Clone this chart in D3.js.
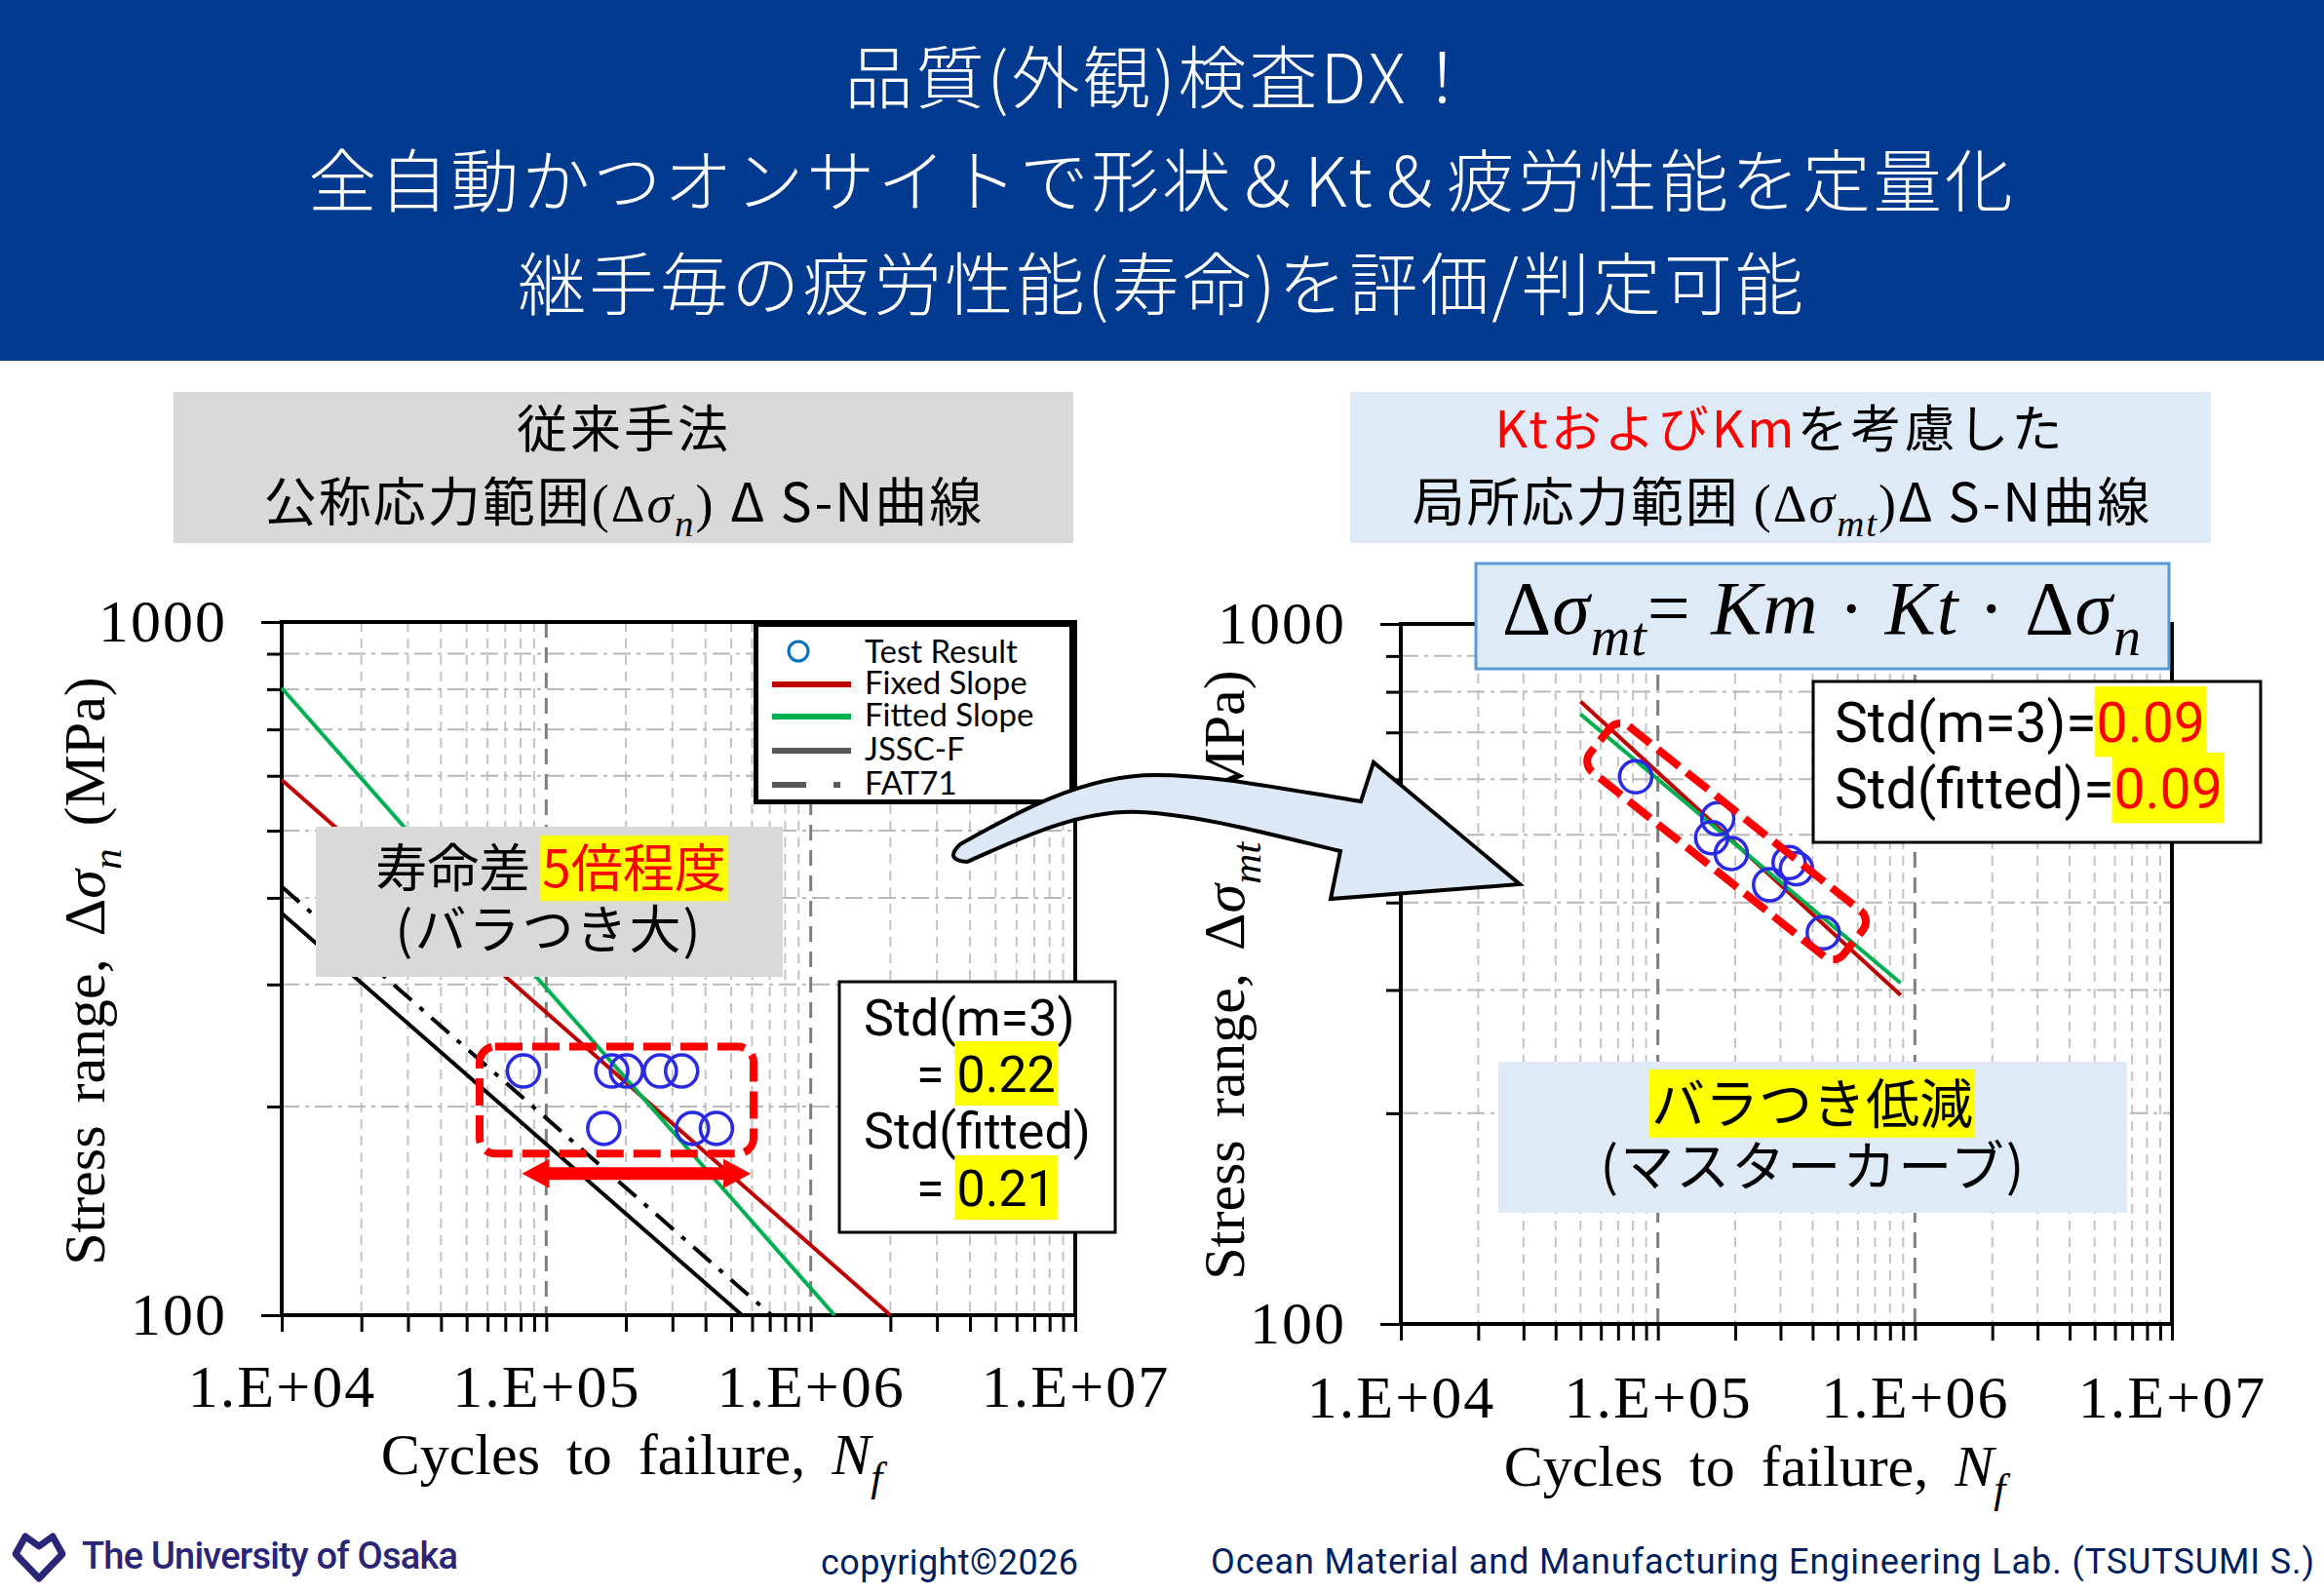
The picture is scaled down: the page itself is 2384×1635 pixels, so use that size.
<!DOCTYPE html>
<html>
<head>
<meta charset="utf-8">
<script src="https://cdn.jsdelivr.net/npm/d3@7"></script>
<style>
  body { margin: 0; background: #fff; }
  svg { display: block; }
</style>
</head>
<body>
<script>
const width = 2384
const height = 1635

// ---- data ----
const headerLines = ["品質(外観)検査DX！", "全自動かつオンサイトで形状＆Kt＆疲労性能を定量化", "継手毎の疲労性能(寿命)を評価/判定可能"]
const xTicks = [1e4, 1e5, 1e6, 1e7]
const xTickLabels = ["1.E+04", "1.E+05", "1.E+06", "1.E+07"]
const yTicks = [100, 1000]
const yTickLabels = ["100", "1000"]

// test results, nominal stress range (left)
const testN = [82000, 177000, 201000, 270000, 325000, 165000, 357000, 440000]
const testS = [225, 225, 225, 225, 225, 186, 186, 186]
// test results, local stress range (right)
const localN = [82000, 171000, 162000, 193000, 324000, 346000, 272000, 440000]
const localS = [605, 527, 495, 470, 456, 447, 424, 362]

// S-N curves, end points
const curveNames = ["Fixed Slope", "Fitted Slope", "JSSC-F", "FAT71"]
const curveN = [[1e4, 2.0e6], [1e4, 1.23e6], [1e4, 5.5e5], [1e4, 7.1e5]]
const curveS = [[592, 100], [803, 100], [380, 100], [415, 100]]
const localCurveNames = ["Fixed Slope", "Fitted Slope"]
const localCurveN = [[5.0e4, 8.8e5], [5.0e4, 8.8e5]]
const localCurveS = [[775, 295], [743, 307]]

const legendNames = ["Test Result", "Fixed Slope", "Fitted Slope", "JSSC-F", "FAT71"]
const stdLeft = ["0.22", "0.21"]
const stdRight = ["0.09", "0.09"]

// ---- styles ----
const curveStyle = {
  "Fixed Slope": { stroke: "#c00000", width: 4, dash: null },
  "Fitted Slope": { stroke: "#00b050", width: 4, dash: null },
  "JSSC-F": { stroke: "#000", width: 4, dash: null },
  "FAT71": { stroke: "#000", width: 4, dash: "24,11,5,11" }
}
const CJK = "'Noto Sans CJK JP', sans-serif"
const SERIF = "'Liberation Serif', 'DejaVu Serif', serif"
const NARROW = "'Liberation Sans Narrow', 'Roboto', sans-serif"
const HL = "#ffff00"

const svg = d3.select("body")
    .append("svg")
    .attr("width", width)
    .attr("height", height)

// text with tspans (italic, subscript, colour, highlight)
function rich(g, x, y, parts, o) {
  const t = g.append("text")
    .attr("x", x).attr("y", y)
    .attr("text-anchor", o.anchor || "middle")
    .attr("font-family", o.family)
    .attr("font-size", o.size)
    .attr("fill", o.fill || "#000")
  if (o.spacing) t.attr("letter-spacing", o.spacing)
  if (o.wordSpacing) t.attr("word-spacing", o.wordSpacing)
  if (o.rotate) t.attr("transform", `rotate(${o.rotate},${x},${y})`)
  const shift = o.size * 0.28
  let wasSub = false
  const spans = []
  parts.forEach(p => {
    const s = t.append("tspan").text(p.t)
    if (p.fill) s.attr("fill", p.fill)
    if (p.family) s.attr("font-family", p.family)
    if (p.italic) s.attr("font-style", "italic")
    if (p.sub) s.attr("dy", wasSub ? 0 : shift).attr("font-size", o.size * 0.72)
    else if (wasSub) s.attr("dy", -shift)
    wasSub = !!p.sub
    spans.push([s, p])
  })
  spans.forEach(([s, p]) => {
    if (!p.bg) return
    const n = s.node()
    const x0 = n.getStartPositionOfChar(0).x
    const w = n.getComputedTextLength()
    g.insert("rect", () => t.node())
      .attr("x", x0 - 2).attr("y", y - o.size * 1.0)
      .attr("width", w + 4).attr("height", o.size * 1.27)
      .attr("fill", p.bg)
  })
  return t
}

// ---- header ----
svg.append("rect").attr("x", 0).attr("y", 0).attr("width", width).attr("height", 370).attr("fill", "#023a90")
svg.selectAll(".hdr").data(headerLines).enter()
  .append("text")
    .attr("x", width / 2)
    .attr("y", (d, i) => 106 + i * 106)
    .attr("text-anchor", "middle")
    .attr("font-family", CJK)
    .attr("font-size", 70)
    .attr("font-weight", 300)
    .attr("letter-spacing", 3)
    .attr("fill", "#fff")
    .text(d => d)

// ---- subtitles ----
svg.append("rect").attr("x", 178).attr("y", 402).attr("width", 923).attr("height", 155).attr("fill", "#d9d9d9")
rich(svg, 640, 459, [{ t: "従来手法" }], { family: CJK, size: 52, spacing: 3 })
rich(svg, 640, 535, [
  { t: "公称応力範囲" }, { t: "(Δ", family: SERIF }, { t: "σ", family: SERIF, italic: true },
  { t: "n", family: SERIF, italic: true, sub: true }, { t: ")  ", family: SERIF }, { t: "Δ S-N曲線" }
], { family: CJK, size: 54, spacing: 2 })

svg.append("rect").attr("x", 1385).attr("y", 402).attr("width", 883).attr("height", 155).attr("fill", "#deebf7")
rich(svg, 1826, 459, [{ t: "KtおよびKm", fill: "#ff0000" }, { t: "を考慮した" }], { family: CJK, size: 52, spacing: 3 })
rich(svg, 1828, 535, [
  { t: "局所応力範囲 " }, { t: "(Δ", family: SERIF }, { t: "σ", family: SERIF, italic: true },
  { t: "mt", family: SERIF, italic: true, sub: true }, { t: ")", family: SERIF }, { t: "Δ S-N曲線" }
], { family: CJK, size: 54, spacing: 2 })

// ---- plot scaffolding ----
function makeScales(x0, x1, y0, y1) {
  return {
    x: d3.scaleLog().domain([1e4, 1e7]).range([x0, x1]),
    y: d3.scaleLog().domain([100, 1000]).range([y1, y0])
  }
}
const L = makeScales(289, 1103, 638, 1349)
const R = makeScales(1437, 2228, 640, 1358)

const minorX = d3.range(4, 7).flatMap(e => d3.range(2, 10).map(k => k * 10 ** e))
const minorY = d3.range(2, 10).map(k => k * 100)

function drawFrame(g, s, o) {
  const [x0, x1] = s.x.range()
  const [y1, y0] = s.y.range()

  g.selectAll(".gx").data(minorX).enter().append("line")
    .attr("x1", d => s.x(d)).attr("x2", d => s.x(d))
    .attr("y1", y0).attr("y2", y1)
    .attr("stroke", "#c4c4c4").attr("stroke-width", 2).attr("stroke-dasharray", "10,7")
  g.selectAll(".gy").data(minorY).enter().append("line")
    .attr("x1", x0).attr("x2", x1)
    .attr("y1", d => s.y(d)).attr("y2", d => s.y(d))
    .attr("stroke", "#b8b8b8").attr("stroke-width", 2).attr("stroke-dasharray", "18,6,4,6")
  g.selectAll(".gX").data([1e5, 1e6]).enter().append("line")
    .attr("x1", d => s.x(d)).attr("x2", d => s.x(d))
    .attr("y1", y0).attr("y2", y1)
    .attr("stroke", "#7f7f7f").attr("stroke-width", 3).attr("stroke-dasharray", "16,10")

  const ax = d3.axisBottom(s.x)
    .tickValues(xTicks.concat(minorX))
    .tickSize(17).tickSizeOuter(0).tickPadding(o.xPad)
    .tickFormat(d => { const i = xTicks.indexOf(d); return i >= 0 ? xTickLabels[i] : "" })
  const gx = g.append("g").attr("transform", `translate(0,${y1})`).call(ax)

  const ay = d3.axisLeft(s.y)
    .tickValues(yTicks.concat(minorY))
    .tickSize(15).tickSizeOuter(0).tickPadding(41)
    .tickFormat(d => { const i = yTicks.indexOf(d); return i >= 0 ? yTickLabels[i] : "" })
  const gy = g.append("g").attr("transform", `translate(${x0},0)`).call(ay)
  gy.selectAll(".tick line").filter(d => yTicks.includes(d)).attr("x2", -21)

  ;[gx, gy].forEach(a => {
    a.select(".domain").remove()
    a.selectAll(".tick line").attr("stroke", "#000").attr("stroke-width", 3)
    a.selectAll("text")
      .attr("font-family", SERIF).attr("font-size", 62).attr("fill", "#000")
      .attr("letter-spacing", 2)
  })

  g.append("rect")
    .attr("x", x0).attr("y", y0).attr("width", x1 - x0).attr("height", y1 - y0)
    .attr("fill", "none").attr("stroke", "#000").attr("stroke-width", 4)

  rich(g, o.xTitle[0], o.xTitle[1], [
    { t: "Cycles to failure, " }, { t: "N", italic: true }, { t: "f", italic: true, sub: true }
  ], { family: SERIF, size: 60, wordSpacing: 12 })
  rich(g, o.yTitle[0], o.yTitle[1], [
    { t: "Stress range, Δ" }, { t: "σ", italic: true }, { t: o.sub, italic: true, sub: true }, { t: " (MPa)" }
  ], { family: SERIF, size: 60, rotate: -90, wordSpacing: 8 })
}

const line = s => d3.line().x(d => s.x(d[0])).y(d => s.y(d[1]))

// ---- left chart ----
const gl = svg.append("g")
drawFrame(gl, L, { xPad: 33, xTitle: [648, 1512], yTitle: [107, 996], sub: "n" })

curveNames.forEach((name, i) => {
  const st = curveStyle[name]
  gl.append("path")
    .attr("d", line(L)(curveN[i].map((n, j) => [n, curveS[i][j]])))
    .attr("fill", "none")
    .attr("stroke", st.stroke)
    .attr("stroke-width", st.width)
    .attr("stroke-dasharray", st.dash)
})

gl.selectAll(".pt").data(testN).enter().append("circle")
  .attr("cx", d => L.x(d))
  .attr("cy", (d, i) => L.y(testS[i]))
  .attr("r", 16.5)
  .attr("fill", "none")
  .attr("stroke", "#2a2ae6")
  .attr("stroke-width", 3.5)

// dashed box around the scatter
gl.append("rect")
  .attr("x", L.x(5.6e4)).attr("y", L.y(244))
  .attr("width", L.x(6.08e5) - L.x(5.6e4)).attr("height", L.y(171) - L.y(244))
  .attr("rx", 16)
  .attr("fill", "none").attr("stroke", "#ff0000").attr("stroke-width", 8).attr("stroke-dasharray", "28,10")

// double arrow for life difference
{
  const xa = L.x(8.1e4), xb = L.x(5.93e5), ya = L.y(160)
  const sh = 6.5, hl = 28, hh = 15
  gl.append("path")
    .attr("d", `M${xa},${ya} L${xa + hl},${ya - hh} L${xa + hl},${ya - sh} L${xb - hl},${ya - sh} L${xb - hl},${ya - hh} L${xb},${ya} L${xb - hl},${ya + hh} L${xb - hl},${ya + sh} L${xa + hl},${ya + sh} L${xa + hl},${ya + hh} Z`)
    .attr("fill", "#ff0000")
}

gl.append("rect").attr("x", 324).attr("y", 848).attr("width", 479).attr("height", 154).attr("fill", "#d9d9d9")
rich(gl, 565, 910, [{ t: "寿命差 " }, { t: "5倍程度", fill: "#ff0000", bg: HL }], { family: CJK, size: 53 })
rich(gl, 563, 973, [{ t: "(バラつき大)" }], { family: CJK, size: 53, spacing: 2 })

// legend
{
  const lg = gl.append("g")
  lg.append("rect").attr("x", 775.5).attr("y", 640.5).attr("width", 324).attr("height", 182)
    .attr("fill", "#fff").attr("stroke", "#000").attr("stroke-width", 5)
  const rows = [680, 712, 745, 780, 815]
  lg.selectAll(".lt").data(legendNames).enter().append("text")
    .attr("x", 887).attr("y", (d, i) => rows[i])
    .attr("font-family", "Lato, 'Open Sans', sans-serif").attr("font-size", 33)
    .attr("fill", "#000")
    .text(d => d)
  lg.append("circle").attr("cx", 819).attr("cy", 668).attr("r", 10)
    .attr("fill", "none").attr("stroke", "#0070c0").attr("stroke-width", 3)
  const legendLine = { "Fixed Slope": ["#c00000", null], "Fitted Slope": ["#00b050", null], "JSSC-F": ["#595959", null], "FAT71": ["#595959", "35,28,7,40"] }
  legendNames.slice(1).forEach((name, i) => {
    lg.append("line")
      .attr("x1", 792).attr("x2", 873)
      .attr("y1", rows[i + 1] - 10).attr("y2", rows[i + 1] - 10)
      .attr("stroke", legendLine[name][0]).attr("stroke-width", 6)
      .attr("stroke-dasharray", legendLine[name][1])
  })
}

// std box (left)
gl.append("rect").attr("x", 861).attr("y", 1007).attr("width", 283).attr("height", 257)
  .attr("fill", "#fff").attr("stroke", "#000").attr("stroke-width", 3)
rich(gl, 886, 1062, [{ t: "Std(m=3)" }], { family: NARROW, size: 52, anchor: "start" })
rich(gl, 940, 1120, [{ t: "= " }, { t: stdLeft[0], bg: HL }], { family: NARROW, size: 52, anchor: "start" })
rich(gl, 886, 1178, [{ t: "Std(fitted)" }], { family: NARROW, size: 52, anchor: "start" })
rich(gl, 940, 1237, [{ t: "= " }, { t: stdLeft[1], bg: HL }], { family: NARROW, size: 52, anchor: "start" })

// ---- right chart ----
const gr = svg.append("g")
drawFrame(gr, R, { xPad: 35, xTitle: [1800, 1524], yTitle: [1276, 1000], sub: "mt" })

localCurveNames.forEach((name, i) => {
  const st = curveStyle[name]
  gr.append("path")
    .attr("d", line(R)(localCurveN[i].map((n, j) => [n, localCurveS[i][j]])))
    .attr("fill", "none")
    .attr("stroke", st.stroke)
    .attr("stroke-width", st.width)
})

gr.selectAll(".pt").data(localN).enter().append("circle")
  .attr("cx", d => R.x(d))
  .attr("cy", (d, i) => R.y(localS[i]))
  .attr("r", 16.5)
  .attr("fill", "none")
  .attr("stroke", "#2a2ae6")
  .attr("stroke-width", 3.5)

{
  const cx = R.x(1.85e5), cy = R.y(489)
  gr.append("rect")
    .attr("x", cx - 166).attr("y", cy - 30).attr("width", 332).attr("height", 60)
    .attr("rx", 14)
    .attr("transform", `rotate(38.5,${cx},${cy})`)
    .attr("fill", "none").attr("stroke", "#ff0000").attr("stroke-width", 8).attr("stroke-dasharray", "28,10")
}

// formula box
gr.append("rect").attr("x", 1514).attr("y", 578).attr("width", 711).attr("height", 108)
  .attr("fill", "#deebf7").attr("stroke", "#5b9bd5").attr("stroke-width", 3)
rich(gr, 1869, 650, [
  { t: "Δ" }, { t: "σ", italic: true }, { t: "mt", italic: true, sub: true },
  { t: "= " }, { t: "Km", italic: true }, { t: " · " }, { t: "Kt", italic: true }, { t: " · Δ" },
  { t: "σ", italic: true }, { t: "n", italic: true, sub: true }
], { family: SERIF, size: 78, spacing: 1 })

// std box (right)
gr.append("rect").attr("x", 1860).attr("y", 699).attr("width", 459).attr("height", 165)
  .attr("fill", "#fff").attr("stroke", "#000").attr("stroke-width", 3)
rich(gr, 1882, 761, [{ t: "Std(m=3)=" }, { t: stdRight[0], fill: "#ff0000", bg: HL }], { family: NARROW, size: 57, anchor: "start" })
rich(gr, 1882, 829, [{ t: "Std(fitted)=" }, { t: stdRight[1], fill: "#ff0000", bg: HL }], { family: NARROW, size: 57, anchor: "start" })

// reduced scatter note
gr.append("rect").attr("x", 1537).attr("y", 1089).attr("width", 645).attr("height", 155).attr("fill", "#deebf7")
rich(gr, 1859, 1152, [{ t: "バラつき低減", bg: HL }], { family: CJK, size: 55 })
rich(gr, 1860, 1216, [{ t: "(マスターカーブ)" }], { family: CJK, size: 55, spacing: 2 })

// ---- curved arrow between charts ----
svg.append("path")
  .attr("d", "M992,884 C1050,858 1110,830 1170,833 C1230,836 1300,855 1375,873 L1365,922 L1559,907 L1409,782 L1396,822 C1320,810 1250,795 1185,795 C1110,795 1040,835 985,866 Q968,882 992,884 Z")
  .attr("fill", "#dce8f5")
  .attr("stroke", "#000")
  .attr("stroke-width", 4)
  .attr("stroke-linejoin", "miter")

// ---- footer ----
svg.append("path")
  .attr("d", "M40,1586 L26,1576 L16,1594 L40,1619 L64,1594 L54,1576 Z")
  .attr("fill", "none").attr("stroke", "#2b2577").attr("stroke-width", 7).attr("stroke-linejoin", "round")
svg.append("text").attr("x", 84).attr("y", 1609)
  .attr("font-family", NARROW).attr("font-size", 38).attr("font-weight", 500)
  .attr("fill", "#2b2577").attr("textLength", 386)
  .text("The University of Osaka")
svg.append("text").attr("x", 842).attr("y", 1615)
  .attr("font-family", NARROW).attr("font-size", 36)
  .attr("fill", "#002060").attr("textLength", 264)
  .text("copyright©2026")
svg.append("text").attr("x", 1242).attr("y", 1614)
  .attr("font-family", NARROW).attr("font-size", 36)
  .attr("fill", "#002060").attr("textLength", 1132)
  .text("Ocean Material and Manufacturing Engineering Lab. (TSUTSUMI S.)")
</script>
</body>
</html>
